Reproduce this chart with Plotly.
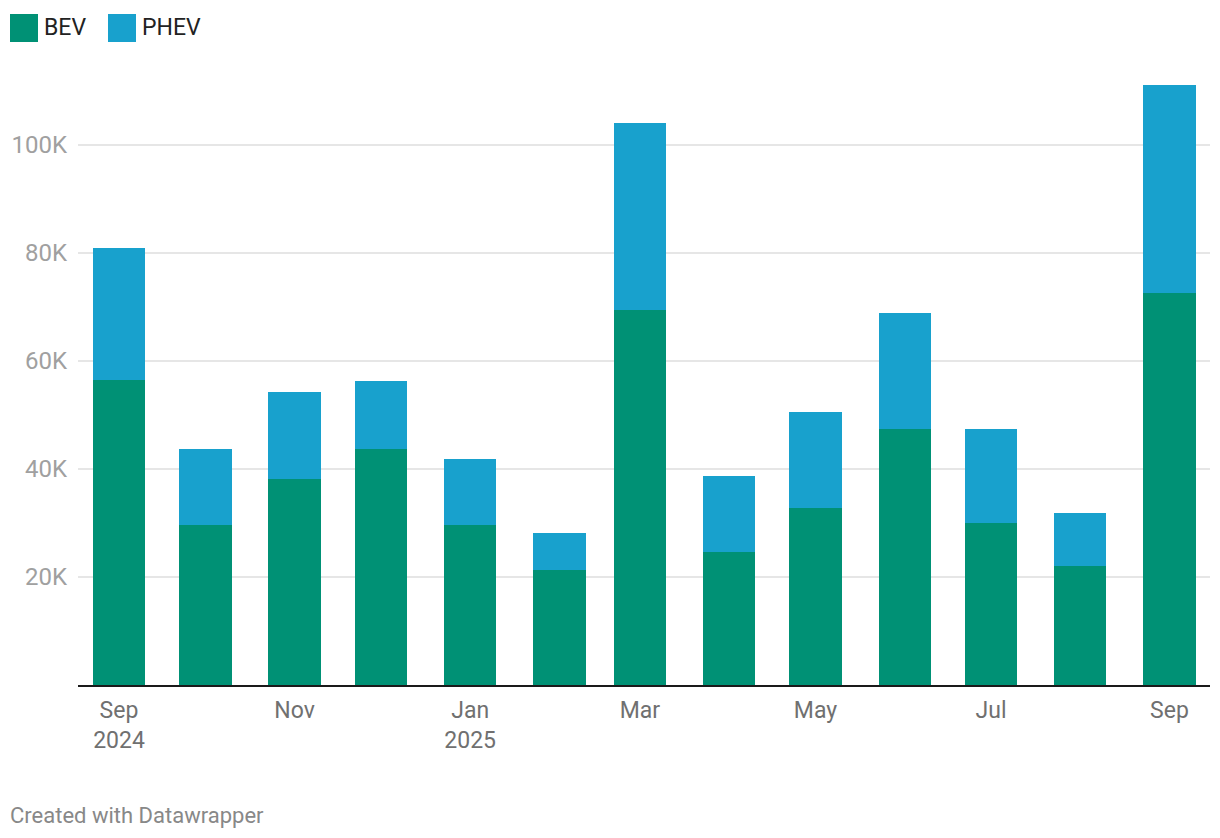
import plotly.graph_objects as go

months = ["2024-09-01", "2024-10-01", "2024-11-01", "2024-12-01", "2025-01-01", "2025-02-01",
          "2025-03-01", "2025-04-01", "2025-05-01", "2025-06-01", "2025-07-01", "2025-08-01",
          "2025-09-01"]
tick_labels = ["Sep<br>2024", "", "Nov", "", "Jan<br>2025", "", "Mar", "", "May", "", "Jul", "", "Sep"]
bev = [56500, 29600, 38100, 43700, 29600, 21300, 69400, 24600, 32800, 47400, 30000, 22000, 72600]
phev = [24400, 14100, 16200, 12600, 12300, 6800, 34700, 14100, 17800, 21500, 17400, 9900, 38500]
y_ticks = [20000, 40000, 60000, 80000, 100000]
y_tick_labels = ["20K", "40K", "60K", "80K", "100K"]

BEV_C = "#009175"
PHEV_C = "#18a1cd"

OFF = 8  # browser body margin
W, H = 1204, 822
L, T = 78 - OFF, 80 - OFF
pw, ph = 1132, 605
R, B = W - L - pw, H - T - ph

def px(x):
    return (x - OFF - L) / pw

def py(y):
    return (T + ph - (y - OFF)) / ph

DAY_MS = 86400000
bar_w = 18.2 * DAY_MS

fig = go.Figure()
fig.add_trace(go.Bar(x=months, y=bev, name="BEV", marker_color=BEV_C, marker_line_width=0,
                     width=[bar_w] * len(months)))
fig.add_trace(go.Bar(x=months, y=phev, name="PHEV", marker_color=PHEV_C, marker_line_width=0,
                     width=[bar_w] * len(months)))

fig.update_layout(
    width=W, height=H,
    margin=dict(l=L, r=R, t=T, b=B),
    barmode="stack",
    plot_bgcolor="white", paper_bgcolor="white",
    showlegend=False,
    font=dict(family="Roboto", size=22),
    hovermode=False,
)
fig.update_xaxes(
    type="date", range=["2024-08-17 18:00", "2025-09-15 01:40"],
    tickvals=months, ticktext=tick_labels,
    showline=True, linecolor="#1a1a1a", linewidth=2,
    showgrid=False, ticks="", ticklabelstandoff=3,
    tickfont=dict(color="#707070", size=23, family="Roboto"),
)
fig.update_yaxes(
    range=[0, 112000], tickvals=y_ticks, ticktext=y_tick_labels,
    showgrid=True, gridcolor="#e6e6e6", gridwidth=1.5,
    zeroline=False, showline=False, ticks="", ticklabelstandoff=10,
    tickfont=dict(color="#a0a0a0", size=24, family="Roboto"),
)

# legend
shapes = []
annotations = []
for x0, color, label in [(10, BEV_C, "BEV"), (108, PHEV_C, "PHEV")]:
    shapes.append(dict(type="rect", xref="paper", yref="paper",
                       x0=px(x0), x1=px(x0 + 28), y0=py(42), y1=py(14),
                       fillcolor=color, line_width=0))
    annotations.append(dict(xref="paper", yref="paper", x=px(x0 + 32), y=py(28),
                            text=label, showarrow=False, xanchor="left", yanchor="middle",
                            font=dict(color="#222222", size=23, family="Roboto")))
annotations.append(dict(xref="paper", yref="paper", x=px(8), y=py(815),
                        text="Created with Datawrapper", showarrow=False,
                        xanchor="left", yanchor="middle",
                        font=dict(color="#888888", size=22, family="Roboto")))
fig.update_layout(shapes=shapes, annotations=annotations)

fig.write_html("out.html")
